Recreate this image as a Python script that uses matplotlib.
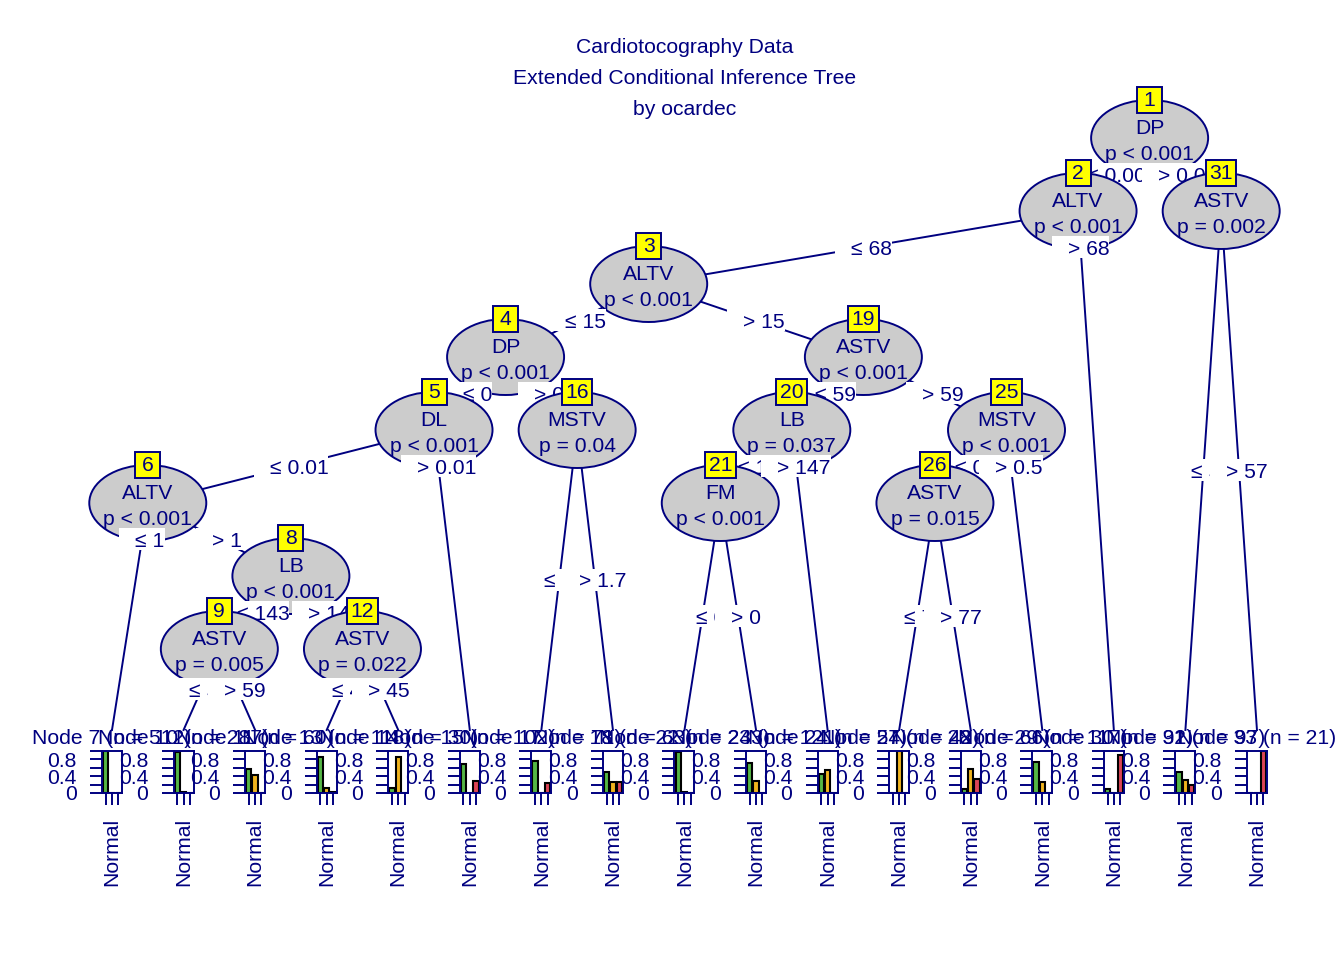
import matplotlib
matplotlib.use("Agg")
import matplotlib.pyplot as plt
from matplotlib.patches import Ellipse, Rectangle
from matplotlib.font_manager import FontProperties
from matplotlib.transforms import ScaledTranslation

plt.rcParams['font.family'] = ['Liberation Sans', 'DejaVu Sans']

# ---- data ----
title_lines = ["Cardiotocography Data", "Extended Conditional Inference Tree", "by ocardec"]

# inner nodes (partykit numbering)
inner_ids = [1, 2, 3, 4, 5, 6, 8, 9, 12, 16, 19, 20, 21, 25, 26, 31]
inner_var = ["DP", "ALTV", "ALTV", "DP", "DL", "ALTV", "LB", "ASTV", "ASTV",
             "MSTV", "ASTV", "LB", "FM", "MSTV", "ASTV", "ASTV"]
inner_p = ["p < 0.001", "p < 0.001", "p < 0.001", "p < 0.001", "p < 0.001",
           "p < 0.001", "p < 0.001", "p = 0.005", "p = 0.022", "p = 0.04",
           "p < 0.001", "p = 0.037", "p < 0.001", "p < 0.001", "p = 0.015",
           "p = 0.002"]
left_kid = [2, 3, 4, 5, 6, 7, 9, 10, 13, 17, 20, 21, 22, 26, 27, 32]
right_kid = [31, 30, 19, 16, 15, 8, 12, 11, 14, 18, 25, 24, 23, 29, 28, 33]
split_val = ["0.001", "68", "15", "0", "0.01", "1", "143", "59", "45", "1.7",
             "59", "147", "0", "0.5", "77", "57"]

# terminal nodes
term_ids = [7, 10, 11, 13, 14, 15, 17, 18, 22, 23, 24, 27, 28, 29, 30, 32, 33]
term_n = [512, 287, 60, 118, 30, 102, 71, 63, 243, 121, 54, 42, 66, 117, 91, 97, 21]
p_normal = [0.99, 0.98, 0.56, 0.86, 0.13, 0.70, 0.76, 0.50, 0.98, 0.71, 0.46,
            0.00, 0.09, 0.73, 0.10, 0.50, 0.00]
p_suspect = [0.01, 0.02, 0.43, 0.12, 0.86, 0.01, 0.00, 0.25, 0.02, 0.28, 0.54,
             1.00, 0.57, 0.27, 0.00, 0.31, 0.00]
p_patho = [0.00, 0.00, 0.01, 0.02, 0.01, 0.29, 0.24, 0.25, 0.00, 0.01, 0.00,
           0.00, 0.34, 0.00, 0.90, 0.19, 1.00]
classes = ["Normal", "Suspect", "Pathologic"]

# ---- style ----
NAVY = "#000080"
BAR_COLORS = ["#55B646", "#F0B41E", "#DC4455"]
FS = 15.2
LW = 1.4
W, H = 1344, 960
X0PX, DXPX = 112, 71.56   # first terminal pixel, terminal spacing
Y0PX, DYPX = 138, 73      # root level pixel, level spacing
TDY = 2                   # text baseline nudge (px)

fig = plt.figure(figsize=(W / 100, H / 100), dpi=100)
ax = fig.add_axes([0, 0, 1, 1])
ax.set_xlim(1 - X0PX / DXPX, 1 + (W - X0PX) / DXPX)
ax.set_ylim((H - Y0PX) / DYPX, -Y0PX / DYPX)
ax.axis("off")

renderer = fig.canvas.get_renderer()
fprop = FontProperties(family=['Liberation Sans', 'DejaVu Sans'], size=FS)


def text_px(s):
    w, h, d = renderer.get_text_width_height_descent(s, fprop, ismath=False)
    return w


def ux(px):
    return px / DXPX


def uy(px):
    return px / DYPX


TERM_Y = uy(730 - Y0PX)
TITLE_Y = uy(738 - Y0PX)
PANEL_TOP = uy(751 - Y0PX)
PANEL_BOT = uy(793 - Y0PX)
EW, EH = ux(117), uy(76)

# ---- layout ----
kids = {n: (l, r) for n, l, r in zip(inner_ids, left_kid, right_kid)}
info = {n: (v, p, s) for n, v, p, s in zip(inner_ids, inner_var, inner_p, split_val)}
tpos = {t: k + 1 for k, t in enumerate(term_ids)}
xpos, depth = {}, {}


def leaves(n):
    if n in tpos:
        return [tpos[n]]
    return leaves(kids[n][0]) + leaves(kids[n][1])


def layout(n, d):
    depth[n] = d
    if n in tpos:
        xpos[n] = tpos[n]
        return
    l, r = kids[n]
    layout(l, d + 1)
    layout(r, d + 1)
    xpos[n] = (max(leaves(l)) + min(leaves(r))) / 2


layout(1, 0)


def ypos(n):
    return TERM_Y if n in tpos else depth[n]


def draw_terminal(t):
    k = term_ids.index(t)
    x = xpos[t]
    ax.text(x, TITLE_Y + uy(1), f"Node {t} (n = {term_n[k]})", ha="center", va="center",
            color=NAVY, fontsize=FS, zorder=2)
    inv = fig.transFigure.inverted()
    l, top = inv.transform(ax.transData.transform((x - ux(10), PANEL_TOP)))
    r, bot = inv.transform(ax.transData.transform((x + ux(10), PANEL_BOT)))
    pax = fig.add_axes([l, bot, r - l, top - bot])
    pax.bar(range(3), [p_normal[k], p_suspect[k], p_patho[k]], width=0.833,
            color=BAR_COLORS, edgecolor="black", linewidth=1.5)
    pax.set_xlim(-0.583, 2.583)
    pax.set_ylim(0, 1)
    pax.set_yticks([0, 0.2, 0.4, 0.6, 0.8, 1.0])
    pax.set_yticklabels(["0", "", "0.4", "", "0.8", ""])
    pax.set_xticks(range(3))
    pax.set_xticklabels([classes[0], "", ""], rotation=90)
    pax.tick_params(axis="both", colors=NAVY, labelcolor=NAVY, labelsize=FS,
                    length=8.6, width=LW, direction="out")
    pax.tick_params(axis="y", pad=9.5)
    pax.tick_params(axis="x", pad=9)
    shift = ScaledTranslation(6.3 / 100, 0, fig.dpi_scale_trans)
    for lab in pax.get_xticklabels():
        lab.set_transform(lab.get_transform() + shift)
    for s in pax.spines.values():
        s.set_color(NAVY)
        s.set_linewidth(LW)


def draw(n):
    x0, y0 = xpos[n], depth[n]
    l, r = kids[n]
    var, pv, sv = info[n]
    for k in (l, r):
        ax.plot([x0, xpos[k]], [y0, ypos(k)], color=NAVY, lw=LW, zorder=2)
    ax.add_patch(Ellipse((x0, y0), EW, EH, fc="#CCCCCC", ec=NAVY, lw=LW, zorder=2))
    ax.text(x0, y0 - uy(11.5 - TDY), var, ha="center", va="center", color=NAVY,
            fontsize=FS, zorder=2)
    ax.text(x0, y0 + uy(14.5 + TDY), pv, ha="center", va="center", color=NAVY,
            fontsize=FS, zorder=2)
    bw = max(25, 1.3 * text_px(str(n)))
    by = y0 - EH / 2
    ax.add_patch(Rectangle((x0 - ux(bw / 2), by - uy(13)), ux(bw), uy(26),
                           fc="yellow", ec=NAVY, lw=LW, zorder=2))
    ax.text(x0, by + uy(1), str(n), ha="center", va="center", color=NAVY,
            fontsize=FS, zorder=2)
    yl = (y0 + min(ypos(l), ypos(r))) / 2
    for k, lab in ((l, "\u2264 " + sv), (r, "> " + sv)):
        xl = x0 + (xpos[k] - x0) * (yl - y0) / (ypos(k) - y0)
        w = text_px(lab) + 16
        ax.add_patch(Rectangle((xl - ux(w / 2), yl - uy(11)), ux(w), uy(22),
                               fc="white", ec="none", zorder=2))
        ax.text(xl + ux(8), yl + uy(TDY), lab, ha="center", va="center", color=NAVY,
                fontsize=FS, zorder=2)
        if k in tpos:
            draw_terminal(k)
        else:
            draw(k)


mid = sum(tpos.values()) / len(tpos)
for line, py in zip(title_lines, [46, 77, 108]):
    ax.text(mid, uy(py + TDY - Y0PX), line, ha="center", va="center", color=NAVY, fontsize=FS)

draw(1)

fig.savefig("out.png", dpi=100)
